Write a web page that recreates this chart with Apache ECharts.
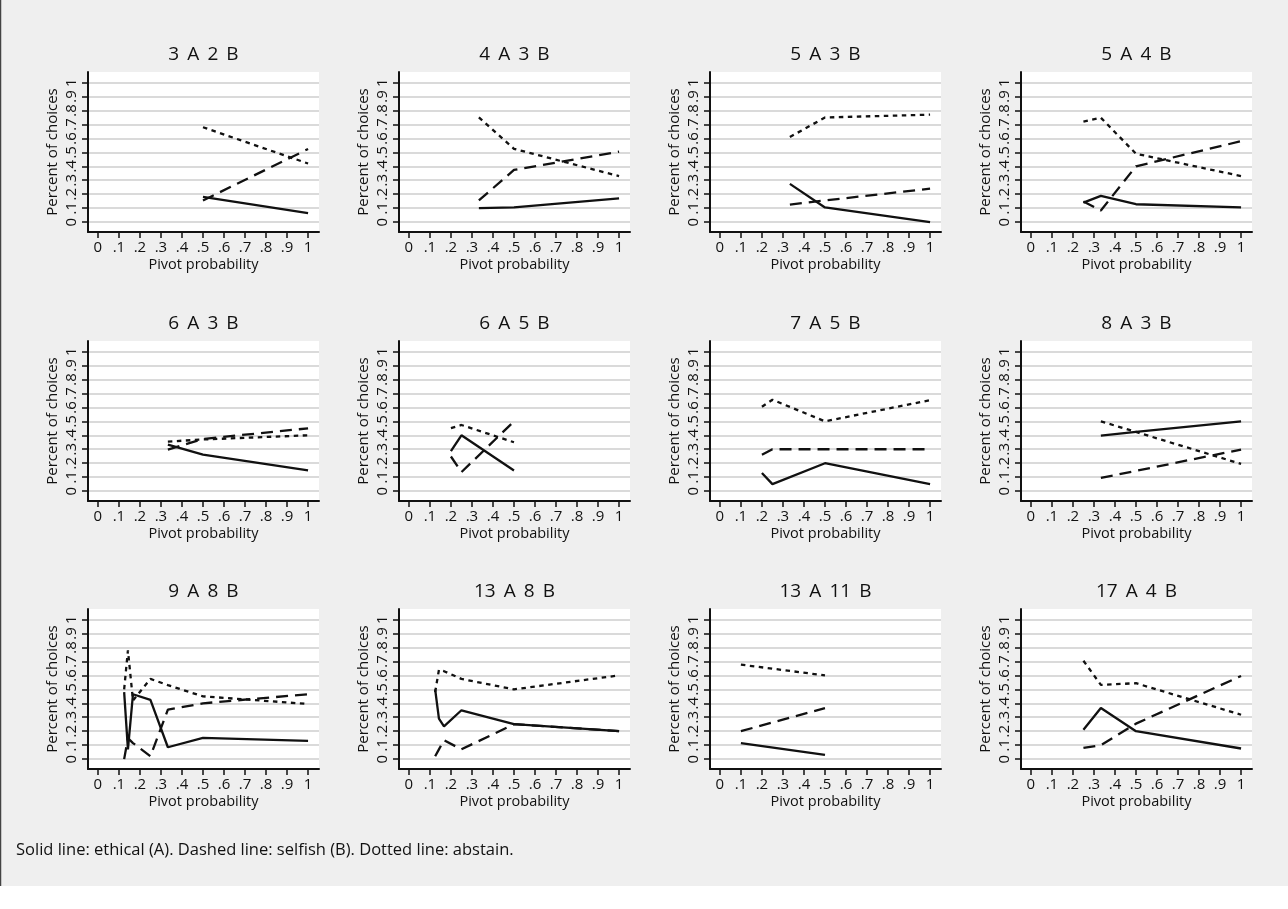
<!DOCTYPE html>
<html>
<head>
<meta charset="utf-8">
<script src="https://cdn.jsdelivr.net/npm/echarts@6/dist/echarts.min.js"></script>
<style>
html,body{margin:0;padding:0;background:#ffffff;}
#chart{width:1288px;height:909px;}
</style>
</head>
<body>
<div id="chart"></div>
<script>
const titles = ['3 A 2 B','4 A 3 B','5 A 3 B','5 A 4 B','6 A 3 B','6 A 5 B','7 A 5 B','8 A 3 B','9 A 8 B','13 A 8 B','13 A 11 B','17 A 4 B'];
const pivots = [
  [0.5, 1],
  [0.333, 0.5, 1],
  [0.333, 0.5, 1],
  [0.25, 0.333, 0.5, 1],
  [0.333, 0.5, 1],
  [0.2, 0.25, 0.5],
  [0.2, 0.25, 0.5, 1],
  [0.333, 0.5, 1],
  [0.125, 0.143, 0.167, 0.25, 0.333, 0.5, 1],
  [0.125, 0.143, 0.167, 0.25, 0.5, 1],
  [0.1, 0.5],
  [0.25, 0.333, 0.5, 1]
];
const ethical = [
  [0.18, 0.064],
  [0.10, 0.105, 0.17],
  [0.274, 0.105, 0.0],
  [0.14, 0.188, 0.128, 0.105],
  [0.333, 0.262, 0.148],
  [0.286, 0.40, 0.148],
  [0.13, 0.05, 0.20, 0.05],
  [0.398, 0.425, 0.50],
  [0.48, 0.07, 0.465, 0.425, 0.085, 0.152, 0.13],
  [0.50, 0.29, 0.235, 0.35, 0.25, 0.20],
  [0.114, 0.031],
  [0.21, 0.366, 0.20, 0.076]
];
const selfish = [
  [0.155, 0.524],
  [0.155, 0.374, 0.505],
  [0.126, 0.155, 0.24],
  [0.148, 0.083, 0.40, 0.58],
  [0.298, 0.374, 0.45],
  [0.248, 0.136, 0.50],
  [0.26, 0.30, 0.30, 0.30],
  [0.095, 0.145, 0.298],
  [0.0, 0.15, 0.115, 0.02, 0.354, 0.40, 0.465],
  [0.02, 0.07, 0.135, 0.07, 0.25, 0.20],
  [0.20, 0.366],
  [0.08, 0.10, 0.254, 0.596]
];
const abstain = [
  [0.68, 0.42],
  [0.75, 0.525, 0.33],
  [0.61, 0.75, 0.77],
  [0.72, 0.748, 0.49, 0.33],
  [0.355, 0.37, 0.40],
  [0.452, 0.474, 0.35],
  [0.605, 0.655, 0.50, 0.652],
  [0.50, 0.424, 0.195],
  [0.50, 0.78, 0.42, 0.575, 0.53, 0.45, 0.395],
  [0.48, 0.64, 0.63, 0.575, 0.50, 0.60],
  [0.677, 0.60],
  [0.705, 0.532, 0.544, 0.318]
];
const tickValues = [0, 0.1, 0.2, 0.3, 0.4, 0.5, 0.6, 0.7, 0.8, 0.9, 1];
const tickLabels = ['0', '.1', '.2', '.3', '.4', '.5', '.6', '.7', '.8', '.9', '1'];
const footnote = 'Solid line: ethical (A). Dashed line: selfish (B). Dotted line: abstain.';

const FONT = '"Open Sans", "Noto Sans", sans-serif';
const colLeft = [88, 399, 710, 1021];
const rowTop = [72, 341, 609];
const gw = 231, gh = 160;

const fmt = v => {
  const i = tickValues.findIndex(t => Math.abs(t - v) < 1e-6);
  return i >= 0 ? tickLabels[i] : '';
};

const grids = [], xAxes = [], yAxes = [], series = [], graphics = [];
graphics.push({type:'rect', z:-100, silent:true, shape:{x:0,y:0,width:1288,height:886}, style:{fill:'#efefef'}});
graphics.push({type:'line', z:-99, silent:true, shape:{x1:0.5,y1:0,x2:0.5,y2:886}, style:{stroke:'#444',lineWidth:1.5}});

titles.forEach((t, i) => {
  const r = Math.floor(i / 4), c = i % 4;
  grids.push({left: colLeft[c], top: rowTop[r], width: gw, height: gh, show: true, backgroundColor: '#ffffff', borderWidth: 0});
  xAxes.push({
    type: 'value', gridIndex: i, min: -0.047, max: 1.052,
    axisLine: {show: true, onZero: false, lineStyle: {color: '#111', width: 2}},
    axisTick: {show: true, length: 6, customValues: tickValues, lineStyle: {color: '#111', width: 1.5}},
    axisLabel: {customValues: tickValues, formatter: fmt, margin: 8, fontSize: 15, color: '#111', fontFamily: FONT},
    splitLine: {show: false},
    name: 'Pivot probability', nameLocation: 'middle', nameGap: 25,
    nameTextStyle: {fontSize: 14.5, color: '#111', fontFamily: FONT}
  });
  yAxes.push({
    type: 'value', gridIndex: i, min: -0.071, max: 1.076,
    axisLine: {show: true, onZero: false, lineStyle: {color: '#111', width: 2}},
    axisTick: {show: true, length: 6, customValues: tickValues, lineStyle: {color: '#111', width: 1.5}},
    axisLabel: {customValues: tickValues, formatter: fmt, rotate: 90, margin: 9, fontSize: 15, color: '#111', fontFamily: FONT},
    splitLine: {show: true, lineStyle: {color: '#dadada', width: 2}},
    name: 'Percent of choices', nameLocation: 'middle', nameGap: 28,
    nameTextStyle: {fontSize: 15, color: '#111', fontFamily: FONT}
  });
  const mk = (vals, type) => ({
    type: 'line', xAxisIndex: i, yAxisIndex: i, symbol: 'none', silent: true,
    data: pivots[i].map((x, k) => [x, vals[k]]),
    lineStyle: {color: '#111', width: 2.3, type: type}
  });
  series.push(mk(ethical[i], 'solid'));
  series.push(mk(selfish[i], [12, 7]));
  series.push(mk(abstain[i], [4.5, 4.5]));
  graphics.push({type: 'text', x: colLeft[c] + gw / 2, y: rowTop[r] - 17, silent: true,
    style: {text: t.split(' ').join('\u2009 '), fontSize: 19, fontFamily: FONT, fill: '#111', textAlign: 'center', textVerticalAlign: 'middle'}});
});
graphics.push({type: 'text', x: 16, y: 850, silent: true,
  style: {text: footnote, fontSize: 16.5, fontFamily: FONT, fill: '#111', textAlign: 'left', textVerticalAlign: 'middle'}});

const chart = echarts.init(document.getElementById('chart'), null, {renderer: 'canvas'});
chart.setOption({
  animation: false,
  backgroundColor: 'transparent',
  grid: grids, xAxis: xAxes, yAxis: yAxes, series: series,
  graphic: graphics
});
</script>
</body>
</html>
